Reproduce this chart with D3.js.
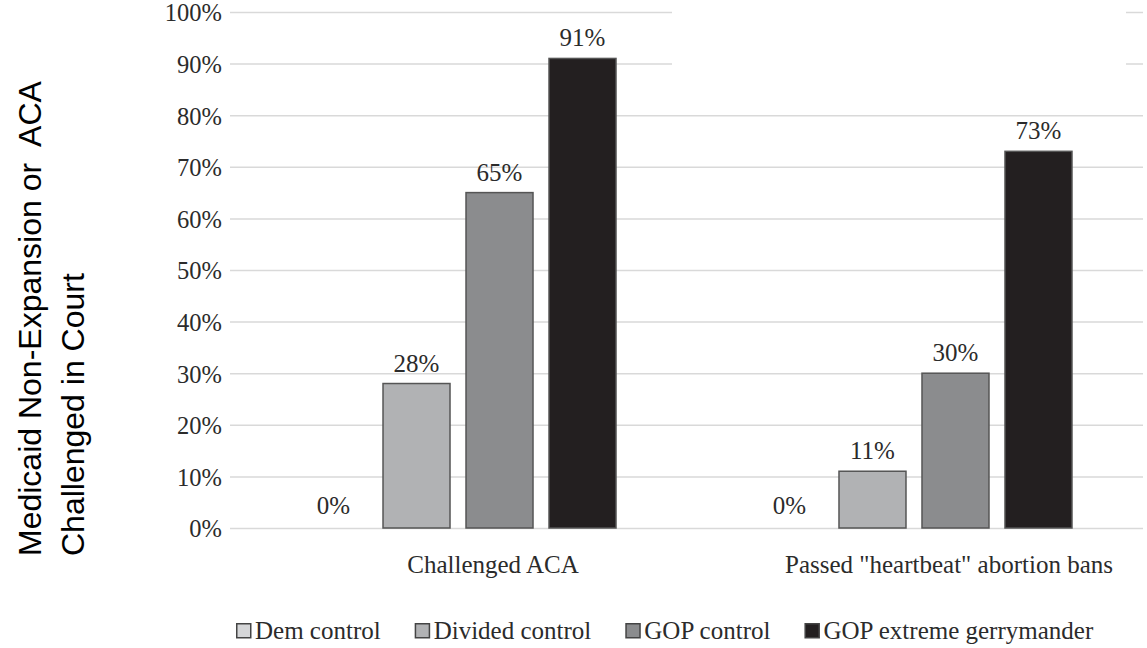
<!DOCTYPE html>
<html>
<head>
<meta charset="utf-8">
<script src="https://cdn.jsdelivr.net/npm/d3@7"></script>
</head>
<body style="margin:0;background:#fff">
<svg id="chart" width="1147" height="648" style="display:block"></svg>
<script>
// ---- data ----
const categories = ["Challenged ACA", "Passed \"heartbeat\" abortion bans"];
const seriesNames = ["Dem control", "Divided control", "GOP control", "GOP extreme gerrymander"];
const demControl = [0, 0];
const dividedControl = [0.28, 0.11];
const gopControl = [0.65, 0.30];
const gopExtreme = [0.91, 0.73];
const yTicks = [0, 0.1, 0.2, 0.3, 0.4, 0.5, 0.6, 0.7, 0.8, 0.9, 1.0];
const yTitleLines = ["Medicaid Non-Expansion or  ACA", "Challenged in Court"];

const seriesValues = [demControl, dividedControl, gopControl, gopExtreme];
const colors = ["#d5d6d8", "#b1b2b4", "#8b8c8e", "#231f20"];

const svg = d3.select("#chart");
const plot = { left: 230, right: 1143, top: 12, bottom: 528 };
const textColor = "#2b2b2b";
const SERIF = "Liberation Serif";

const y = d3.scaleLinear().domain([0, 1]).range([plot.bottom, plot.top]);
const x0 = d3.scaleBand().domain(categories).range([230, 1142])
  .paddingInner(0.2719).paddingOuter(0.136);
const x1 = d3.scaleBand().domain(seriesNames).range([0, x0.bandwidth()])
  .paddingInner(16 / 83).paddingOuter(8 / 83);

// gridlines via axis
const yAxis = d3.axisLeft(y).tickValues(yTicks)
  .tickSize(-(plot.right - plot.left))
  .tickFormat(d3.format(".0%"));
const gAxis = svg.append("g")
  .attr("transform", `translate(${plot.left},0)`)
  .call(yAxis)
  .attr("font-family", SERIF)
  .attr("font-size", 24.5);
gAxis.select(".domain").remove();
gAxis.selectAll(".tick line").attr("stroke", "#d9d9d9").attr("stroke-width", 1.5);
gAxis.selectAll(".tick text")
  .attr("font-family", SERIF)
  .attr("font-size", 24.5)
  .attr("x", -8)
  .attr("dy", "0.36em")
  .attr("fill", textColor);

// white occluding box seen in the reference (hides top gridlines mid-chart)
svg.append("rect")
  .attr("x", 672).attr("y", 0)
  .attr("width", 1126 - 672).attr("height", y(0.85))
  .attr("fill", "#fff");

// bars
const rows = [];
categories.forEach((c, ci) => {
  seriesNames.forEach((s, si) => rows.push({ cat: c, series: s, si, value: seriesValues[si][ci] }));
});

const groups = svg.append("g");
groups.selectAll("rect.bar")
  .data(rows.filter(d => d.value > 0))
  .join("rect")
  .attr("class", "bar")
  .attr("x", d => x0(d.cat) + x1(d.series))
  .attr("y", d => y(d.value))
  .attr("width", x1.bandwidth())
  .attr("height", d => y(0) - y(d.value))
  .attr("fill", d => colors[d.si])
  .attr("stroke", "#555")
  .attr("stroke-width", 1.5);

// value labels
groups.selectAll("text.val")
  .data(rows)
  .join("text")
  .attr("class", "val")
  .attr("x", d => x0(d.cat) + x1(d.series) + x1.bandwidth() / 2)
  .attr("y", d => y(d.value) - (d.value > 0 ? 12 : 14))
  .attr("text-anchor", "middle")
  .attr("fill", textColor)
  .attr("font-family", SERIF)
  .attr("font-size", 25)
  .text(d => d3.format(".0%")(d.value));

// category labels
svg.selectAll("text.cat")
  .data(categories)
  .join("text")
  .attr("class", "cat")
  .attr("x", d => x0(d) + x0.bandwidth() / 2 + 35)
  .attr("y", 573)
  .attr("text-anchor", "middle")
  .attr("fill", textColor)
  .attr("font-family", SERIF)
  .attr("font-size", 25)
  .text(d => d);

// y-axis title
const yTitle = svg.append("text")
  .attr("transform", "translate(41,556) rotate(-90)")
  .attr("fill", "#000")
  .attr("font-family", "Liberation Sans")
  .attr("font-size", 32)
  .attr("xml:space", "preserve")
  .style("white-space", "pre");
yTitleLines.forEach((t, i) => {
  yTitle.append("tspan").attr("x", 0).attr("y", i * 43).text(t);
});

// legend
const legend = svg.append("g").attr("transform", "translate(236,623)");
let lx = 0;
seriesNames.forEach((s, i) => {
  const g = legend.append("g").attr("transform", `translate(${lx},0)`);
  g.append("rect")
    .attr("x", 0.75).attr("y", 0.75)
    .attr("width", 14).attr("height", 14)
    .attr("fill", colors[i])
    .attr("stroke", "#444").attr("stroke-width", 1.5);
  const t = g.append("text")
    .attr("x", 19).attr("y", 16)
    .attr("fill", textColor)
    .attr("font-family", SERIF)
    .attr("font-size", 25)
    .text(s);
  lx += 19 + t.node().getComputedTextLength() + 34;
});
</script>
</body>
</html>
